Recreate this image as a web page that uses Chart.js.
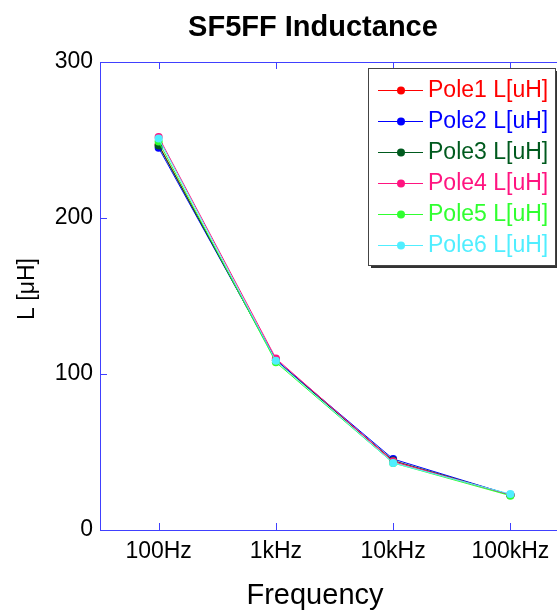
<!DOCTYPE html>
<html>
<head>
<meta charset="utf-8">
<script src="https://cdn.jsdelivr.net/npm/chart.js@4/dist/chart.umd.min.js"></script>
<style>
  body { margin: 0; overflow: hidden; background: #fff; }
</style>
</head>
<body>
<canvas id="chart" width="600" height="612"></canvas>
<script>
// Data
const frequencies = ['100Hz', '1kHz', '10kHz', '100kHz'];
const pole1 = [247, 109, 44, 22.5];
const pole2 = [245, 109, 45.5, 22.5];
const pole3 = [246.5, 108.5, 44.5, 22.5];
const pole4 = [252, 110, 44, 22.5];
const pole5 = [249, 107.5, 43, 22];
const pole6 = [251, 108.5, 43, 23];
const seriesNames = ['Pole1 L[uH]', 'Pole2 L[uH]', 'Pole3 L[uH]', 'Pole4 L[uH]', 'Pole5 L[uH]', 'Pole6 L[uH]'];
const seriesColors = ['#ff0000', '#0000ff', '#005a1e', '#ff1480', '#30ff30', '#50eeff'];
const yTicks = [0, 100, 200, 300];

const FONT = '"Liberation Sans", Arial, sans-serif';
const AXIS_COLOR = '#4040ff';

const allSeries = [pole1, pole2, pole3, pole4, pole5, pole6];
const datasets = allSeries.map((values, i) => ({
    label: seriesNames[i],
    data: values,
    borderColor: seriesColors[i],
    backgroundColor: seriesColors[i],
    borderWidth: 1,
    pointRadius: 4,
    pointStyle: 'circle',
    pointBorderWidth: 0,
    tension: 0,
    order: allSeries.length - i   // last pole on top, like the original
}));

// Frame, inward ticks, title, axis labels and the boxed legend
const matlabLook = {
    id: 'matlabLook',
    afterDraw(chart) {
        const ctx = chart.ctx;
        const area = chart.chartArea;
        const xs = chart.scales.x;
        const ys = chart.scales.y;
        ctx.save();

        // box around the axes
        ctx.strokeStyle = AXIS_COLOR;
        ctx.lineWidth = 1;
        ctx.beginPath();
        ctx.moveTo(area.left, area.top + 0.5);
        ctx.lineTo(area.right, area.top + 0.5);
        ctx.moveTo(area.right - 0.5, area.top);
        ctx.lineTo(area.right - 0.5, area.bottom);
        ctx.stroke();

        // ticks pointing inwards
        const len = 7;
        ctx.beginPath();
        xs.ticks.forEach((t, i) => {
            const x = Math.round(xs.getPixelForTick(i)) + 0.5;
            ctx.moveTo(x, area.bottom);
            ctx.lineTo(x, area.bottom - len);
            ctx.moveTo(x, area.top);
            ctx.lineTo(x, area.top + len);
        });
        yTicks.forEach(v => {
            const y = Math.round(ys.getPixelForValue(v)) + 0.5;
            ctx.moveTo(area.left, y);
            ctx.lineTo(area.left + len, y);
            ctx.moveTo(area.right, y);
            ctx.lineTo(area.right - len, y);
        });
        ctx.stroke();

        // title and axis labels
        ctx.fillStyle = '#000';
        ctx.textAlign = 'center';
        ctx.textBaseline = 'middle';
        ctx.font = 'bold 29px ' + FONT;
        ctx.fillText('SF5FF Inductance', 313, 28);
        ctx.font = '29px ' + FONT;
        ctx.fillText('Frequency', 315, 596);
        ctx.save();
        ctx.translate(28, 289);
        ctx.rotate(-Math.PI / 2);
        ctx.font = '23px ' + FONT;
        ctx.fillText('L [\u03bcH]', 0, 0);
        ctx.restore();

        // legend
        const bx = 368, by = 68, bw = 187, bh = 197;
        ctx.fillStyle = '#333';
        ctx.fillRect(bx + 3, by + 3, bw, bh);
        ctx.fillStyle = '#fff';
        ctx.fillRect(bx, by, bw, bh);
        ctx.strokeStyle = '#444';
        ctx.strokeRect(bx + 0.5, by + 0.5, bw, bh);
        ctx.font = '23px ' + FONT;
        ctx.textAlign = 'left';
        chart.data.datasets.forEach((ds, i) => {
            const y = by + 22 + i * 31;
            ctx.strokeStyle = ds.borderColor;
            ctx.beginPath();
            ctx.moveTo(378, y + 0.5);
            ctx.lineTo(423, y + 0.5);
            ctx.stroke();
            ctx.fillStyle = ds.borderColor;
            ctx.beginPath();
            ctx.arc(401, y + 0.5, 4, 0, Math.PI * 2);
            ctx.fill();
            ctx.fillText(ds.label, 428, y + 1);
        });
        ctx.restore();
    }
};

new Chart(document.getElementById('chart'), {
    type: 'line',
    data: { labels: frequencies, datasets: datasets },
    options: {
        responsive: false,
        animation: false,
        layout: { padding: { top: 62, right: 31, left: 0, bottom: 0 } },
        plugins: {
            legend: { display: false },
            title: { display: false },
            tooltip: { enabled: false }
        },
        scales: {
            x: {
                type: 'category',
                offset: true,
                grid: { display: false, drawTicks: false },
                border: { color: AXIS_COLOR, width: 1 },
                ticks: { color: '#000', font: { family: FONT, size: 23 }, padding: 8, maxRotation: 0 },
                afterFit: s => { s.height = 82; }
            },
            y: {
                min: 0,
                max: 300,
                grid: { display: false, drawTicks: false },
                border: { color: AXIS_COLOR, width: 1 },
                ticks: {
                    stepSize: 100,
                    color: '#000',
                    font: { family: FONT, size: 23 },
                    padding: 7
                },
                afterFit: s => { s.width = 100; }
            }
        }
    },
    plugins: [matlabLook]
});
</script>
</body>
</html>
